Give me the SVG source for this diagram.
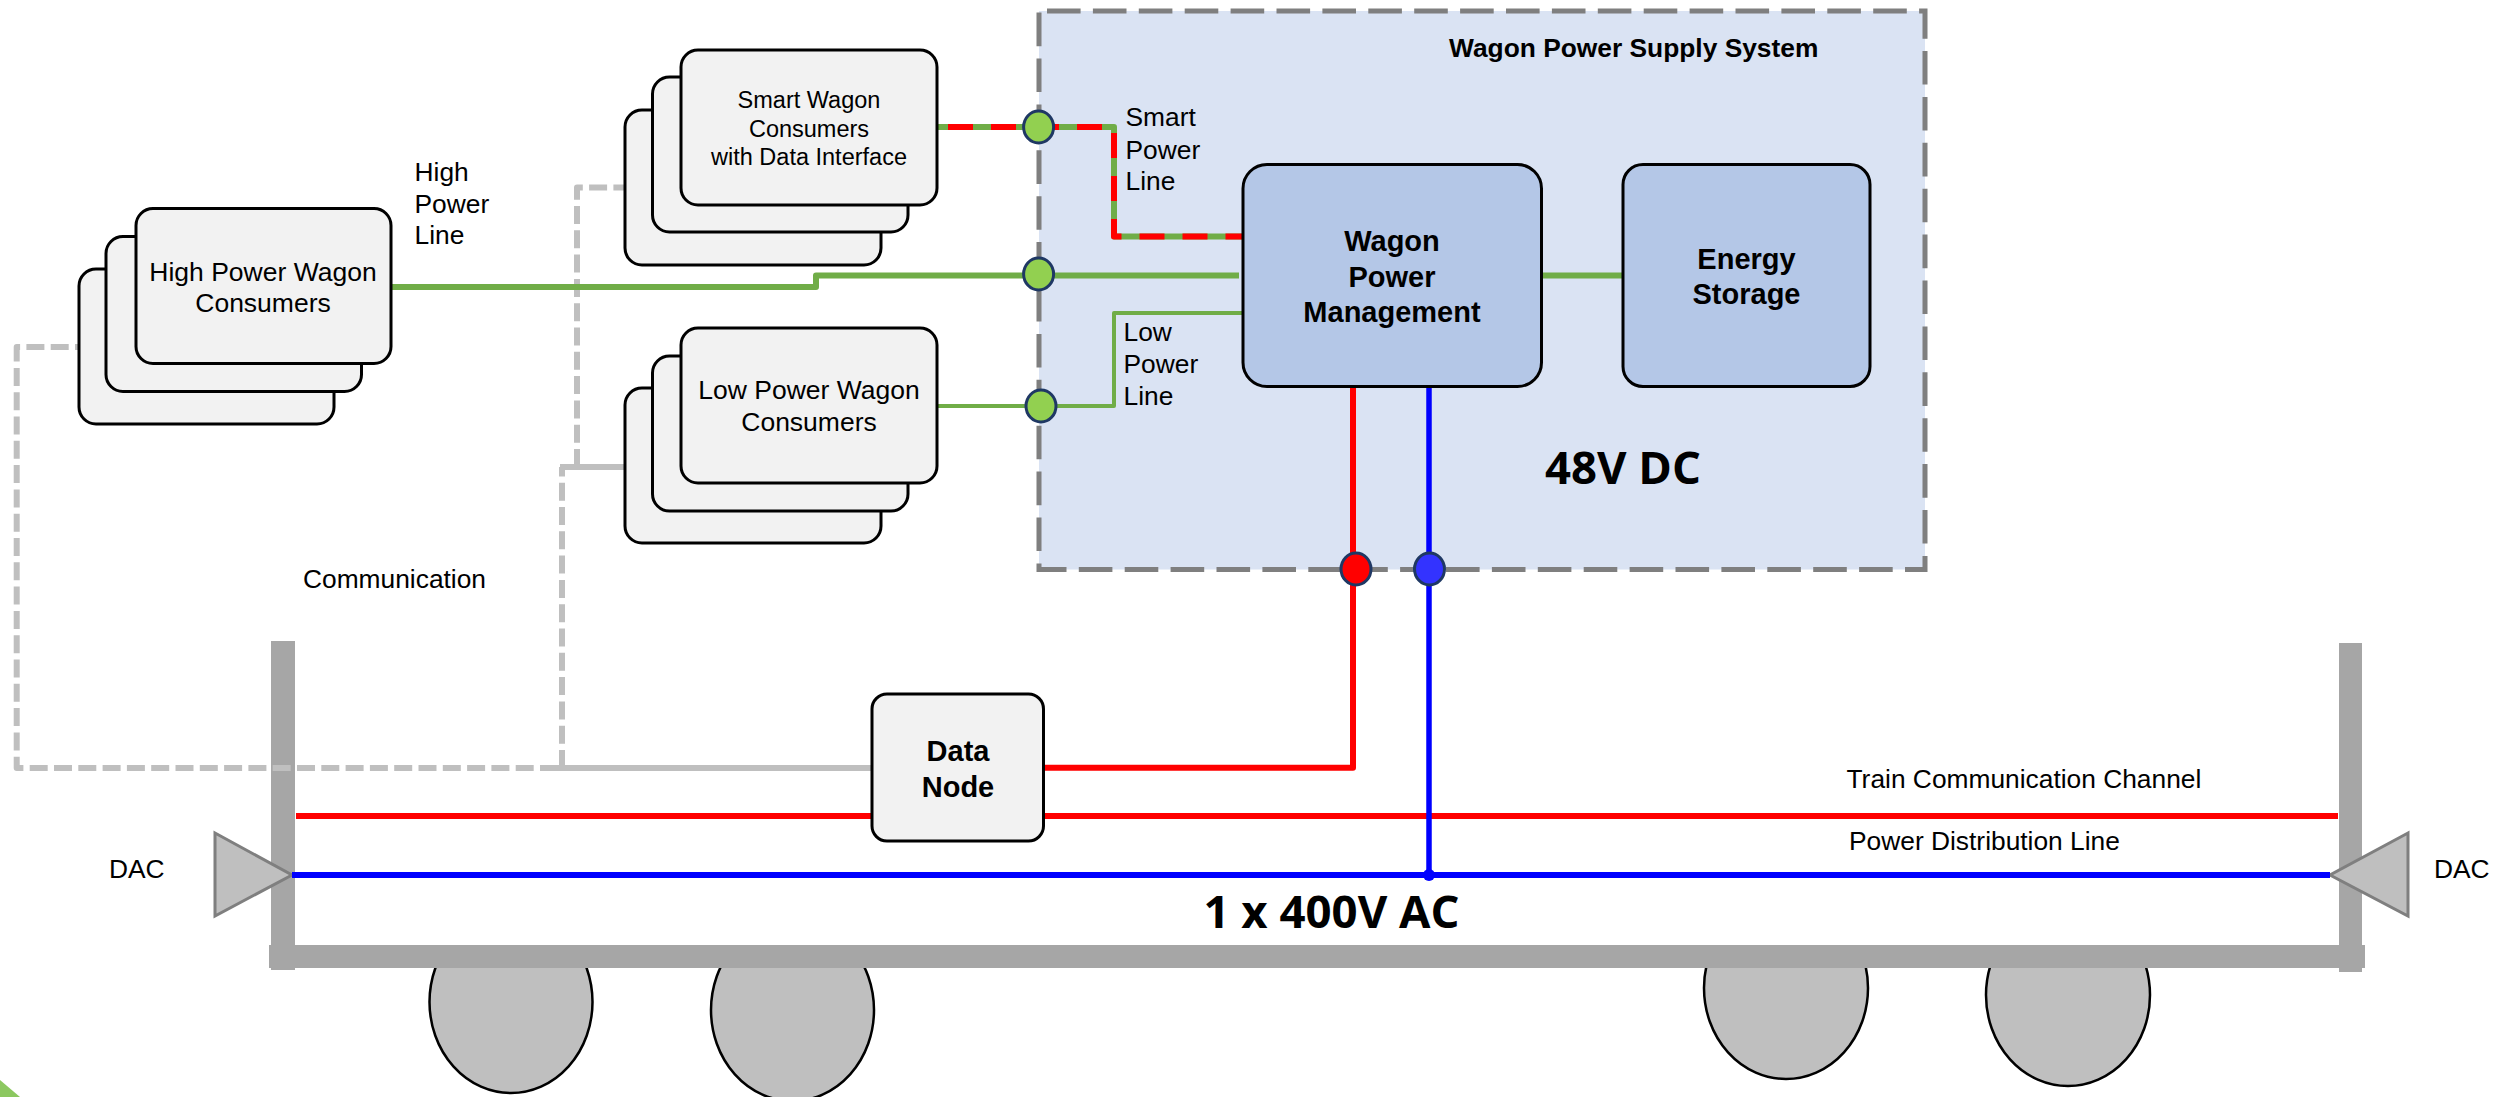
<svg xmlns="http://www.w3.org/2000/svg" width="2510" height="1097" viewBox="0 0 2510 1097">
<defs><style>
text{font-family:"Liberation Sans",Arial,sans-serif;font-size:26.35px;fill:#000}
.c{text-anchor:middle}
.b{font-weight:bold;font-size:29px}
.big{font-family:"Open Sans","Liberation Sans",sans-serif;font-weight:bold;font-size:44px}
.box{fill:#F2F2F2;stroke:#000;stroke-width:3}
.blue{fill:#B4C7E7;stroke:#000;stroke-width:3}
.metal{fill:#A6A6A6}
.wheel{fill:#BFBFBF;stroke:#000;stroke-width:2.5}
.dac{fill:#BFBFBF;stroke:#7F7F7F;stroke-width:3;stroke-linejoin:miter}
.l{fill:none;stroke-linejoin:round}
.g6{stroke:#70AD47;stroke-width:6}
.g4{stroke:#70AD47;stroke-width:4}
.r{stroke:#FF0000;stroke-width:6}
.bl{stroke:#0000FF;stroke-width:6}
.cd{stroke:#BFBFBF;stroke-width:6;stroke-dasharray:18 6.3}
.cs{stroke:#BFBFBF;stroke-width:6}
.port{stroke:#1F3864;stroke-width:3}
</style>
<clipPath id="below-bar"><rect x="0" y="966" width="2510" height="131"/></clipPath>
</defs>
<rect width="2510" height="1097" fill="#fff"/>
<polygon points="0,1080 20,1097 0,1097" fill="#8CC860"/>

<g id="wagon-frame">
<g clip-path="url(#below-bar)">
<ellipse class="wheel" cx="511" cy="1002" rx="81.5" ry="91"/>
<ellipse class="wheel" cx="792.5" cy="1010" rx="81.5" ry="91"/>
<ellipse class="wheel" cx="1786" cy="988" rx="82" ry="91"/>
<ellipse class="wheel" cx="2068" cy="995" rx="82" ry="91"/>
</g>
<rect class="metal" x="271" y="641" width="24" height="329"/>
<rect class="metal" x="2339" y="643" width="23" height="329"/>
<rect class="metal" x="269" y="945" width="2096" height="23"/>
</g>

<g id="dac-left"><polygon class="dac" points="215,833 292,875 215,916"/><text x="109" y="878">DAC</text></g>
<g id="dac-right"><polygon class="dac" points="2408,833 2330,875 2408,916"/><text x="2434" y="878">DAC</text></g>

<g id="system"><rect x="1039" y="11" width="886" height="558.5" fill="#DAE3F3" stroke="#7F7F7F" stroke-width="5" stroke-dasharray="33.6 12.3" stroke-dashoffset="-8"/>
<text x="1449" y="57" style="font-weight:bold">Wagon Power Supply System</text>
<text class="big" x="1545" y="484" textLength="156" lengthAdjust="spacingAndGlyphs">48V DC</text></g>

<g id="connectors">
<path class="l cd" d="M558,768H16.7V347H79"/>
<path class="l cd" d="M562,768V467"/>
<path class="l cd" d="M577,467V187.5H625"/>
<path class="l cs" d="M872,768H558M560,467H625"/>
<path class="l g6" d="M391,287H816V275.5H1239"/>
<path class="l g6" d="M1541,275.5H1623"/>
<path class="l g4" d="M937,406H1114V313H1243"/>
<path class="l g6" d="M937,127H1114V236.5H1243"/>
<path class="l r" style="stroke-dasharray:25 18;stroke-dashoffset:32" d="M937,127H1114V236.5H1243"/>
<path class="l r" d="M1353,386V767.7H1043"/>
<path class="l r" d="M296,816H2338"/>
<path class="l bl" d="M292,875H2330"/>
<path class="l bl" style="stroke-width:5.5" d="M1429,386V875"/>
<circle cx="1429" cy="875" r="6" fill="#0000FF"/>
</g>

<g id="ports">
<ellipse class="port" cx="1038.6" cy="127" rx="15" ry="16" fill="#92D050"/>
<ellipse class="port" cx="1038.6" cy="274" rx="15" ry="16" fill="#92D050"/>
<ellipse class="port" cx="1041" cy="406" rx="15" ry="16" fill="#92D050"/>
<ellipse class="port" cx="1356" cy="569" rx="15" ry="16" fill="#FF0000"/>
<ellipse class="port" cx="1429.5" cy="569" rx="15" ry="16" fill="#3333FF"/>
</g>

<g id="high-power-consumers">
<rect class="box" x="79" y="269" width="255" height="155" rx="17"/>
<rect class="box" x="106" y="236.5" width="255.5" height="155" rx="17"/>
<rect class="box" x="136" y="208.5" width="255" height="155" rx="17"/>
<text class="c" x="263" y="280.5" style="font-size:26.5px">High Power Wagon</text>
<text class="c" x="263" y="312" style="font-size:26.5px">Consumers</text>
</g>
<g id="smart-consumers">
<rect class="box" x="625" y="110" width="256" height="155" rx="17"/>
<rect class="box" x="652.5" y="77" width="255.5" height="155" rx="17"/>
<rect class="box" x="681" y="50" width="256" height="155" rx="17"/>
<text class="c" x="809" y="108" style="font-size:23.5px">Smart Wagon</text>
<text class="c" x="809" y="137" style="font-size:23.5px">Consumers</text>
<text class="c" x="809" y="164.5" style="font-size:23.5px">with Data Interface</text>
</g>
<g id="low-power-consumers">
<rect class="box" x="625" y="388" width="256" height="155" rx="17"/>
<rect class="box" x="652.5" y="356" width="255.5" height="155" rx="17"/>
<rect class="box" x="681" y="328" width="256" height="155" rx="17"/>
<text class="c" x="809" y="399" style="font-size:26.5px">Low Power Wagon</text>
<text class="c" x="809" y="431" style="font-size:26.5px">Consumers</text>
</g>
<g id="wagon-power-management">
<rect class="blue" x="1243" y="164.5" width="298.5" height="222" rx="24"/>
<text class="c b" x="1392" y="250.5">Wagon</text>
<text class="c b" x="1392" y="287">Power</text>
<text class="c b" x="1392" y="322">Management</text>
</g>
<g id="energy-storage">
<rect class="blue" x="1623" y="164.5" width="247" height="222" rx="20"/>
<text class="c b" x="1746.5" y="268.5">Energy</text>
<text class="c b" x="1746.5" y="303.5">Storage</text>
</g>
<g id="data-node">
<rect class="box" x="872" y="694" width="171.5" height="147" rx="15"/>
<text class="c b" x="958" y="760.5">Data</text>
<text class="c b" x="958" y="796.5">Node</text>
</g>

<g id="labels">
<text x="414.5" y="180.5">High</text><text x="414.5" y="213">Power</text><text x="414.5" y="244">Line</text>
<text x="303" y="587.5">Communication</text>
<text x="1125.5" y="126">Smart</text><text x="1125.5" y="158.5">Power</text><text x="1125.5" y="189.5">Line</text>
<text x="1123.5" y="341">Low</text><text x="1123.5" y="373">Power</text><text x="1123.5" y="405">Line</text>
<text x="1846.5" y="787.5">Train Communication Channel</text>
<text x="1849" y="850">Power Distribution Line</text>
<text class="big" x="1203.5" y="928" textLength="256" lengthAdjust="spacingAndGlyphs">1 x 400V AC</text>
</g>
</svg>
